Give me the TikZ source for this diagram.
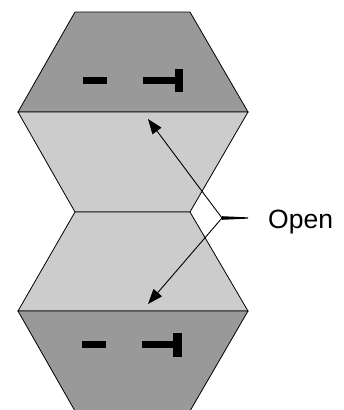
\documentclass[tikz,border=0pt]{standalone}
\usepackage{fontspec}
\setmainfont{Liberation Sans}
\usepackage{tikz}
\usepackage{xcolor}
\usetikzlibrary{arrows.meta}

\definecolor{darkface}{gray}{0.6}
\definecolor{lightface}{gray}{0.8}

\begin{document}
\begin{tikzpicture}%
  [x=1pt,y=-1pt,
   face/.style={draw=black,line width=0.8pt,line join=miter}]
  \tikzstyle{dark face}=[face,fill=darkface]
  \tikzstyle{light face}=[face,fill=lightface]
  \tikzstyle{glyph}=[fill=black]
  \tikzstyle{pointer}=[draw=black,line width=0.9pt,
    -{Triangle[length=15pt,width=11pt]}]
  \useasboundingbox (0,0) rectangle (344,410);
  % faces, top to bottom
  \draw[dark face] (75,12) -- (190,12) -- (248,112) -- (18,112) -- cycle;
  \draw[light face] (18,112) -- (248,112) -- (190,212) -- (75,212) -- cycle;
  \draw[light face] (75,212) -- (190,212) -- (248,311) -- (18,311) -- cycle;
  \draw[dark face] (18,311) -- (248,311) -- (190,411) -- (75,411) -- cycle;
  % marks on the dark faces
  \fill[glyph] (83,77) rectangle (107,84);
  \fill[glyph] (143,77) rectangle (176,84);
  \fill[glyph] (175,69) rectangle (183,92);
  \fill[glyph] (82,341) rectangle (106,348);
  \fill[glyph] (142,341) rectangle (174,348);
  \fill[glyph] (173,333) rectangle (182,357);
  % label and pointers
  \coordinate (hub) at (222,218);
  \coordinate (stub) at (248,218);
  \coordinate (up tip) at (148,119);
  \coordinate (down tip) at (148,304);
  \node(open)[anchor=base west,inner sep=0pt,font=\fontsize{26.5}{30}\selectfont]
    at (268,228) {Open};
  \fill ([yshift=1.8pt]hub) -- ([yshift=0.6pt]stub)
    -- ([yshift=-0.6pt]stub) -- ([yshift=-1.8pt]hub) -- cycle;
  \draw[pointer] (hub) -- (up tip);
  \draw[pointer] (hub) -- (down tip);
\end{tikzpicture}
\end{document}
